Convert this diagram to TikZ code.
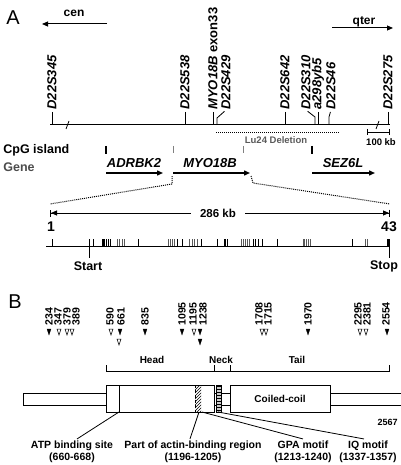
\documentclass[tikz,border=0pt]{standalone}
\usepackage{fontspec}
\setmainfont{Liberation Sans}
\usetikzlibrary{arrows.meta,patterns}

\begin{document}
\begin{tikzpicture}[x=1pt,y=-1pt,font=\bfseries,line width=0.8pt,
    lbl/.style={rotate=90,anchor=west,inner sep=0pt,font=\fontsize{13}{13}\selectfont\bfseries\itshape},
    num/.style={rotate=90,anchor=west,inner sep=0pt,font=\fontsize{10.5}{10.5}\selectfont\bfseries},
    panel/.style={font=\fontsize{20}{20}\selectfont\mdseries},
    site/.style={align=center,inner sep=0pt,font=\fontsize{10.5}{11.5}\selectfont\bfseries},
    filled/.style={draw=black,fill=black,line width=0.3pt},
    open/.style={draw=black,fill=white,line width=0.5pt},
    tip/.style={-{Triangle[length=6pt,width=5pt]}}]
\useasboundingbox (0,0) rectangle (400,465);
% A
\node[panel] (pa) at (13,18) {A};
\node[font=\fontsize{12}{12}\selectfont\bfseries] (cen) at (74,13) {cen};
\node[font=\fontsize{12}{12}\selectfont\bfseries] (qter) at (364,22) {qter};
\draw[tip,line width=1pt] (107,24) -- (42,24);
\draw[tip,line width=1pt] (332,28) -- (393,28);
% chromosome
\coordinate (base) at (0,125);
\draw[line width=1pt] (50,125) -- (390,125);
\draw (66,129) -- (69,121);
\draw (376,129) -- (379,121);
\node[lbl] (d345) at (52,110) {D22S345};
\node[lbl] (d538) at (185,110) {D22S538};
\node[lbl] (exon) at (213,110) {MYO18B\/ \upshape exon33};
\node[lbl] (d429) at (226,110) {D22S429};
\node[lbl] (d642) at (285,110) {D22S642};
\node[lbl] (d310) at (306,110) {D22S310};
\node[lbl] (a298) at (318,110) {a298yb5};
\node[lbl] (d46) at (331,110) {D22S46};
\node[lbl] (d275) at (388,110) {D22S275};
\foreach \n in {d345,d538,exon,d642,a298,d275}
  \draw[shorten <=2pt] (\n.west) -- (\n.west |- base);
\draw[shorten <=2pt] (d429.west) -- (217,118) -- (217,125);
\draw[shorten <=2pt] (d310.west) -- (315,117) -- (315,125);
\draw[shorten <=2pt] (d46.west) -- (329,117) -- (329,125);
% deletion, scale
\draw[line width=1pt,dash pattern=on 1pt off 1pt] (216,133) -- (339,133);
\node[text=gray!70!black,font=\fontsize{9.5}{9.5}\selectfont\bfseries] (lu) at (276,140) {Lu24 Deletion};
\draw (367,132) -- (389,132);
\draw (367,129) -- (367,135);
\draw (389,129) -- (389,135);
\node[font=\fontsize{9.5}{9.5}\selectfont\bfseries] (kb) at (381,142) {100 kb};
% CpG and genes
\node[anchor=west,inner sep=0pt,font=\fontsize{12.5}{12.5}\selectfont\bfseries] (cpg) at (3,150) {CpG island};
\node[anchor=west,inner sep=0pt,text=gray!60!black,font=\fontsize{12.5}{12.5}\selectfont\bfseries] (gene) at (3,167) {Gene};
\draw[line width=1.8pt] (106,146) -- (106,154);
\draw[line width=1.8pt] (312,146) -- (312,154);
\draw[gray] (173,146) -- (173,153);
\draw[gray] (243,146) -- (243,153);
\node[font=\fontsize{13}{13}\selectfont\bfseries\itshape] (adr) at (134,163) {ADRBK2};
\node[font=\fontsize{13}{13}\selectfont\bfseries\itshape] (myo) at (210,163) {MYO18B};
\node[font=\fontsize{13}{13}\selectfont\bfseries\itshape] (sez) at (343,163) {SEZ6L};
\draw[tip,line width=1.4pt] (106,173) -- (163,173);
\draw[tip,line width=1.4pt] (173,173) -- (250,173);
\draw[tip,line width=1.4pt] (312,173) -- (375,173);
% zoom
\draw[line width=1pt,dash pattern=on 1pt off 1pt] (172,176) -- (172,184) -- (50,204);
\draw[line width=1pt,dash pattern=on 1pt off 1pt] (251,176) -- (253,183) -- (390,204);
\draw[line width=1pt,{Bar[width=7pt]Triangle[length=6pt,width=5pt]}-{Triangle[length=6pt,width=5pt]Bar[width=7pt]}] (50,213) -- (390,213);
\node[fill=white,inner xsep=9pt,font=\fontsize{11.5}{11.5}\selectfont\bfseries] (len) at (218,213) {286 kb};
\node[font=\fontsize{14}{14}\selectfont\bfseries] (e1) at (51,227) {1};
\node[font=\fontsize{14}{14}\selectfont\bfseries] (e43) at (389,227) {43};
% exons
\draw (46,246) -- (390,246);
\foreach \x in {52,89,93,106,108,110,138,177,182,201,217,224,225,227,253,255,258,262,277,352}
  \draw[line width=0.7pt] (\x,239) -- (\x,246);
\foreach \x in {117,119,122,124,168,170,172,174,189,192,194,197,241,243,245,247,249,303,304,306,308,310,365,367}
  \draw[line width=0.7pt,gray!70!black] (\x,239) -- (\x,246);
\fill (101.5,239) rectangle (104.5,246);
\fill (387,239) rectangle (390,246);
\draw (89,246) -- (89,258);
\draw (389,246) -- (389,258);
\node[font=\fontsize{12.5}{12.5}\selectfont\bfseries] (start) at (88,266) {Start};
\node[font=\fontsize{12.5}{12.5}\selectfont\bfseries] (stop) at (384,266) {Stop};
% B
\node[panel] (pb) at (15,302) {B};
\foreach \x/\t in {49/234,58/347,67/379,76/389,110/590,121/661,145/835,182/1095,193/1195,203/1238,259/1708,268/1715,308/1970,358/2295,367/2381,386/2554}
  \node[num] (n\t) at (\x,326) {\t};
\foreach \x/\y in {49/332,120/332,145/332,182/332,200/332,200/342,308/332,387/332}
  \draw[filled] (\x-2,\y-3) -- (\x+2,\y-3) -- (\x,\y+3) -- cycle;
\foreach \x/\y in {59/332,67/332,72/332,111/332,119/342,194/332,262/332,266/332,360/332,366/332}
  \draw[open] (\x-2,\y-3) -- (\x+2,\y-3) -- (\x,\y+3) -- cycle;
% domains
\node[font=\fontsize{10}{10}\selectfont\bfseries] (head) at (152,360) {Head};
\node[font=\fontsize{10}{10}\selectfont\bfseries] (neck) at (221,360) {Neck};
\node[font=\fontsize{10}{10}\selectfont\bfseries] (tail) at (297,360) {Tail};
\draw (106,365) -- (106,371) -- (389,371) -- (389,365);
\draw (214,365) -- (214,371);
\draw (230,365) -- (230,371);
% protein
\draw (404,393) -- (23,393) -- (23,405) -- (404,405);
\draw[fill=white] (106,385) rectangle (214,412);
\draw (119,385) -- (119,412);
\fill[pattern=north east lines] (195,385) rectangle (201,412);
\draw[densely dashed] (195,385) -- (195,412);
\draw[fill=gray!40] (216,385) rectangle (221,412);
\fill[pattern=horizontal lines] (216,385) rectangle (221,412);
\draw[fill=white] (230,385) rectangle (330,412);
\node[font=\fontsize{10}{10}\selectfont\bfseries] (cc) at (280,399) {Coiled-coil};
\node[anchor=east,inner sep=0pt,font=\fontsize{9}{9}\selectfont\bfseries] (end) at (398,422) {2567};
% sites
\node[site] (atp) at (72,452) {ATP binding site\\(660-668)};
\node[site] (actin) at (193,452) {Part of actin-binding region\\(1196-1205)};
\node[site] (gpa) at (303,452) {GPA motif\\(1213-1240)};
\node[site] (iq) at (368,452) {IQ motif\\(1337-1357)};
\draw (119,412) -- ([xshift=5pt,yshift=2pt]atp.north);
\draw (199,412) -- ([xshift=-3pt,yshift=2pt]actin.north);
\draw (202,412) -- ([yshift=2pt]gpa.north);
\draw (218,412) -- ([xshift=-4pt,yshift=2pt]iq.north);
\end{tikzpicture}
\end{document}
